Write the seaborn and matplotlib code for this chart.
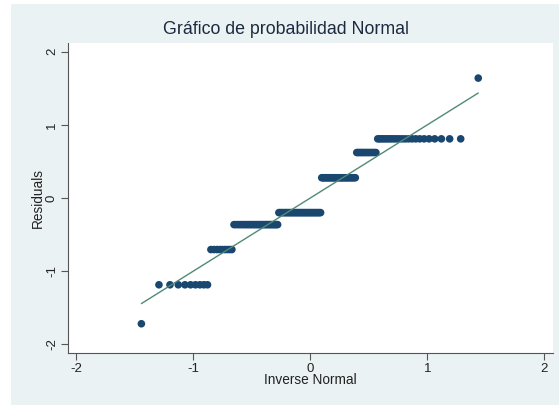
import numpy as np
import pandas as pd
import matplotlib
matplotlib.use("Agg")
import matplotlib.pyplot as plt
import seaborn as sns
from matplotlib.patches import Rectangle
from statistics import NormalDist

levels = [-1.72, -1.187, -0.705, -0.364, -0.20, 0.277, 0.622, 0.809, 1.64]
counts = [1, 9, 9, 29, 37, 28, 13, 23, 1]

x_ticks = [-2, -1, 0, 1, 2]
y_ticks = [-2, -1, 0, 1, 2]

title = "Gráfico de probabilidad Normal"
xlabel = "Inverse Normal"
ylabel = "Residuals"

navy = "#1a476f"
line_col = "#4f8a74"
text_col = "#1c2a40"
bg_col = "#eaf2f3"

# build the residuals and the normal quantiles (same mean / sd, like qnorm)
resid = np.sort(np.repeat(levels, counts))
n = len(resid)
nd = NormalDist(mu=resid.mean(), sigma=resid.std(ddof=1))
inv_norm = np.array([nd.inv_cdf(i / (n + 1)) for i in range(1, n + 1)])
df = pd.DataFrame({"Inverse Normal": inv_norm, "Residuals": resid})
ref = pd.DataFrame({"x": [inv_norm.min(), inv_norm.max()],
                    "y": [inv_norm.min(), inv_norm.max()]})

sns.set_style("white")
plt.rcParams["font.family"] = ["Liberation Sans", "DejaVu Sans"]
plt.rcParams["axes.unicode_minus"] = False

fig = plt.figure(figsize=(5.59, 4.05), dpi=100)
fig.patch.set_facecolor("white")
fig.add_artist(Rectangle((11 / 559, 0), 1 - 11 / 559, 1 - 4 / 405,
                         transform=fig.transFigure, facecolor=bg_col,
                         edgecolor="none", zorder=-10))

ax = fig.add_axes([67.6 / 559, 1 - 353 / 405, (553 - 67.6) / 559, 310 / 405])
ax.set_facecolor("white")

sns.scatterplot(data=df, x="Inverse Normal", y="Residuals", ax=ax,
                color=navy, s=30, edgecolor="none", linewidth=0, zorder=3)
sns.lineplot(data=ref, x="x", y="y", ax=ax, color=line_col, linewidth=1.0, zorder=4)

ax.set_xlim(-2.075, 2.075)
ax.set_ylim(-2.12, 2.12)
ax.set_xticks(x_ticks)
ax.set_yticks(y_ticks)
ax.set_xticklabels([str(t) for t in x_ticks])
ax.set_yticklabels([str(t) for t in y_ticks], rotation=90, va="center")
ax.tick_params(axis="both", direction="out", length=5, width=0.8,
               color="#555555", labelsize=9.5, labelcolor="#222222", pad=2,
               left=True, bottom=True)

for side in ["top", "right"]:
    ax.spines[side].set_visible(False)
for side in ["left", "bottom"]:
    ax.spines[side].set_color("#555555")
    ax.spines[side].set_linewidth(0.8)

ax.set_xlabel(xlabel, fontsize=9.8, color="#222222", labelpad=-1)
ax.set_ylabel(ylabel, fontsize=9.8, color="#222222", labelpad=1)

fig.text(286 / 559, 1 - 30 / 405, title, ha="center", va="center",
         fontsize=12.8, color=text_col)

fig.savefig("out.png", dpi=100, facecolor=fig.get_facecolor())
